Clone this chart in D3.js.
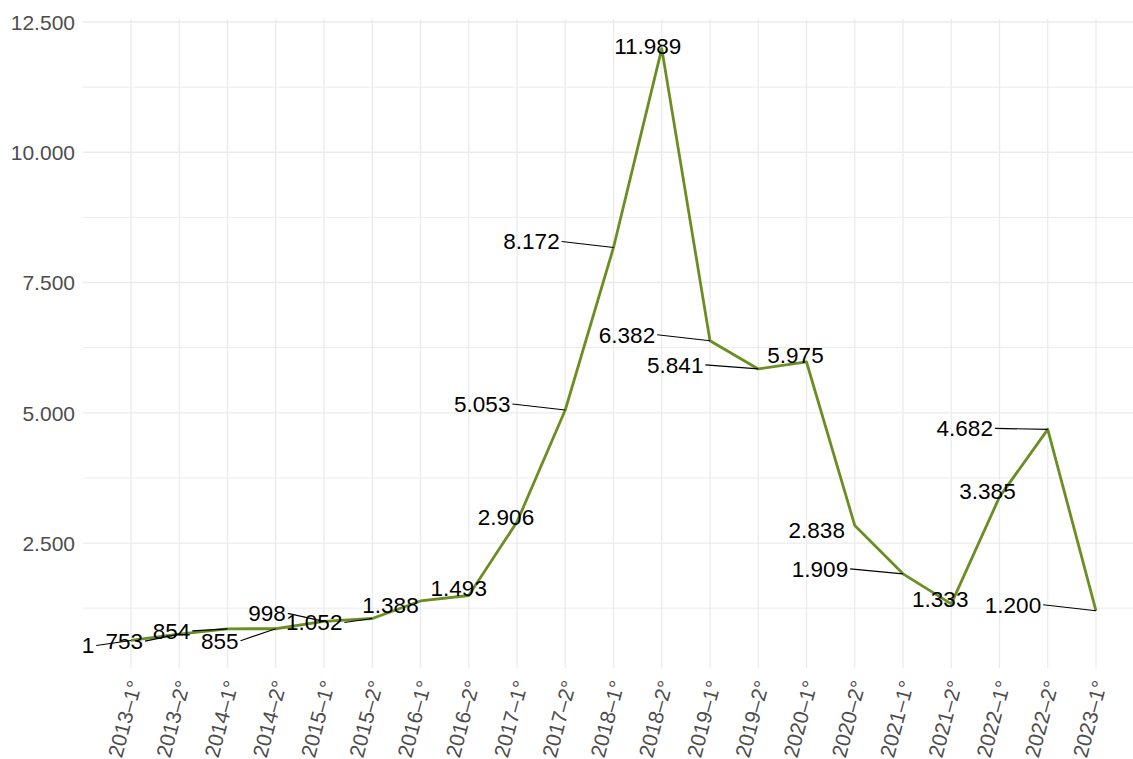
<!DOCTYPE html>
<html><head><meta charset="utf-8">
<script src="https://cdn.jsdelivr.net/npm/d3@7"></script>
<style>body{margin:0;background:#fff;} svg{display:block;}</style>
</head><body>
<svg id="chart" width="1133" height="759"></svg>
<script>
const categories = ["2013–1°","2013–2°","2014–1°","2014–2°","2015–1°","2015–2°","2016–1°","2016–2°","2017–1°","2017–2°","2018–1°","2018–2°","2019–1°","2019–2°","2020–1°","2020–2°","2021–1°","2021–2°","2022–1°","2022–2°","2023–1°"];
const values = [630, 753, 854, 855, 998, 1052, 1388, 1493, 2906, 5053, 8172, 11989, 6382, 5841, 5975, 2838, 1909, 1333, 3385, 4682, 1200];
const pointLabels = ["1","753","854","855","998","1.052","1.388","1.493","2.906","5.053","8.172","11.989","6.382","5.841","5.975","2.838","1.909","1.333","3.385","4.682","1.200"];
const yTicks = [2500, 5000, 7500, 10000, 12500];
const yMinor = [1250, 3750, 6250, 8750, 11250];
// repel-style label offsets (px) from each point
const labelOffsets = [[-43,5],[-55,7],[-56,2],[-56,12],[-57,-8],[-58,4],[-30,4],[-10,-7],[-11,-5],[-83,-6],[-82,-6],[-14,-3],[-83,-6],[-83,-4],[-11,-7],[-38,5],[-83,-5],[-11,-5],[-12,-6],[-83,-1],[-83,-6]];

const svg = d3.select("#chart");
const panel = {left: 83, right: 1133, top: 19, bottom: 668};
const x = d3.scalePoint().domain(categories).range([131, 1096]);
const y = d3.scaleLinear().domain([0, 12500]).range([673.3, 22]);
const fmt = v => d3.format(",")(v).replace(/,/g, ".");

const grid = svg.append("g");
grid.selectAll("line.minor").data(yMinor).join("line")
  .attr("x1", panel.left).attr("x2", panel.right)
  .attr("y1", d => y(d)).attr("y2", d => y(d))
  .attr("stroke", "#ebebeb").attr("stroke-width", 1);
grid.selectAll("line.major").data(yTicks).join("line")
  .attr("x1", panel.left).attr("x2", panel.right)
  .attr("y1", d => y(d)).attr("y2", d => y(d))
  .attr("stroke", "#ebebeb").attr("stroke-width", 1.3);
grid.selectAll("line.v").data(categories).join("line")
  .attr("x1", d => x(d)).attr("x2", d => x(d))
  .attr("y1", panel.top).attr("y2", panel.bottom)
  .attr("stroke", "#ebebeb").attr("stroke-width", 1.3);

// y axis
const yAxis = d3.axisLeft(y).tickValues(yTicks).tickFormat(fmt).tickSize(0).tickPadding(0);
const ya = svg.append("g").attr("transform", "translate(75,0)").call(yAxis);
ya.select(".domain").remove();
ya.selectAll("text").attr("font-family", "Liberation Sans, Arial, sans-serif")
  .attr("font-size", 21).attr("fill", "#4d4d4d").attr("dy", "0.35em");

// x axis
const xAxis = d3.axisBottom(x).tickSize(0).tickPadding(0);
const xa = svg.append("g").call(xAxis);
xa.select(".domain").remove();
xa.selectAll(".tick").attr("transform", d => `translate(${x(d) + 4},681)`);
xa.selectAll("text").attr("font-family", "Liberation Sans, Arial, sans-serif")
  .attr("font-size", 21).attr("fill", "#4d4d4d")
  .attr("text-anchor", "end").attr("x", 0).attr("y", 0).attr("dy", "0.35em")
  .attr("transform", "rotate(-75)");

// line
const line = d3.line().x((d, i) => x(categories[i])).y(d => y(d));
svg.append("path").datum(values).attr("d", line)
  .attr("fill", "none").attr("stroke", "#6b8e23").attr("stroke-width", 2.8)
  .attr("stroke-linejoin", "round");

// labels with segments
const lab = svg.append("g");
const fs = 22.5;
values.forEach((v, i) => {
  const px = x(categories[i]), py = y(v);
  const [dx, dy] = labelOffsets[i];
  const t = lab.append("text").attr("x", px + dx).attr("y", py + dy)
    .attr("text-anchor", "middle").attr("dy", "0.35em")
    .attr("font-family", "Liberation Sans, Arial, sans-serif")
    .attr("font-size", fs).attr("fill", "#000").text(pointLabels[i]);
  const w = t.node().getComputedTextLength();
  const edge = px + dx + w / 2 + 2;
  if (px - edge > 15) {
    lab.insert("line", ":first-child").attr("x1", edge).attr("y1", py + dy)
      .attr("x2", px).attr("y2", py).attr("stroke", "#000").attr("stroke-width", 1.2);
  }
});
</script>
</body></html>
